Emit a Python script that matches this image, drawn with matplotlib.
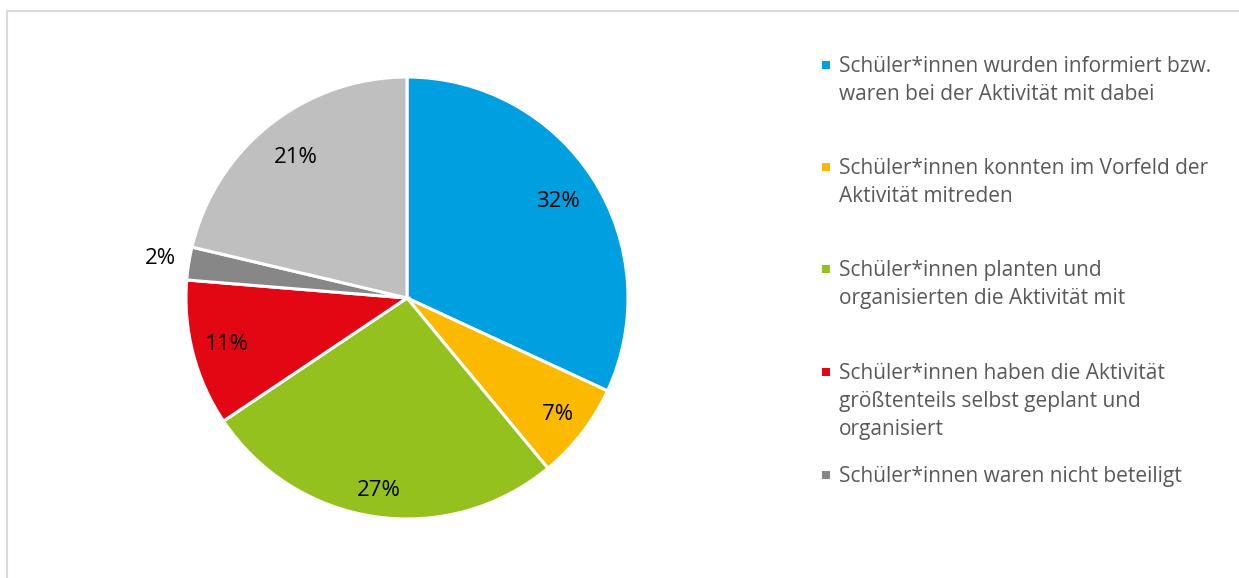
import matplotlib.pyplot as plt
import matplotlib.patches as mpatches
import numpy as np

plt.rcParams['font.family'] = ['Open Sans', 'DejaVu Sans']

labels = [
    "Schüler*innen wurden informiert bzw.\nwaren bei der Aktivität mit dabei",
    "Schüler*innen konnten im Vorfeld der\nAktivität mitreden",
    "Schüler*innen planten und\norganisierten die Aktivität mit",
    "Schüler*innen haben die Aktivität\ngrößtenteils selbst geplant und\norganisiert",
    "Schüler*innen waren nicht beteiligt",
    "",
]
values = [31.9, 7.1, 26.6, 10.7, 2.4, 21.3]
colors = ["#009FE0", "#FBBA00", "#95C11F", "#E30613", "#878787", "#BFBFBF"]
label_r = [0.81, 0.86, 0.88, 0.84, 1.13, 0.81]

W, H = 1239, 578
fig = plt.figure(figsize=(W / 100, H / 100), dpi=100)

# light frame (top + left visible)
fig.patches.append(mpatches.Rectangle((7 / W, -0.05), 1.1, (H - 11) / H + 0.05,
                                      transform=fig.transFigure, fill=False,
                                      edgecolor="#D9D9D9", lw=1.5, clip_on=False))

cx, cy, r = 407, 298, 221
ax = fig.add_axes([(cx - r) / W, (H - cy - r) / H, 2 * r / W, 2 * r / H])
wedges, _ = ax.pie(values, colors=colors, startangle=90, counterclock=False,
                   radius=1, wedgeprops=dict(edgecolor="white", linewidth=2.2))
ax.set_xlim(-1, 1)
ax.set_ylim(-1, 1)
ax.set_aspect("equal")
ax.axis("off")

for w, v, lr in zip(wedges, values, label_r):
    a = np.deg2rad((w.theta1 + w.theta2) / 2)
    ax.text(lr * np.cos(a), lr * np.sin(a), f"{v:.0f}%", ha="center", va="center",
            fontsize=16, color="black")

# legend
ys = [65, 167, 269, 372, 475]
for lab, col, y in zip(labels[:5], colors[:5], ys):
    fig.patches.append(mpatches.Rectangle((822 / W, (H - y - 4) / H), 8 / W, 8 / H,
                                          transform=fig.transFigure, facecolor=col,
                                          edgecolor="none"))
    fig.text(839 / W, (H - y + 9) / H, lab, ha="left", va="top", fontsize=15,
             color="#595959", linespacing=1.45)

fig.savefig("out.png", dpi=100)
